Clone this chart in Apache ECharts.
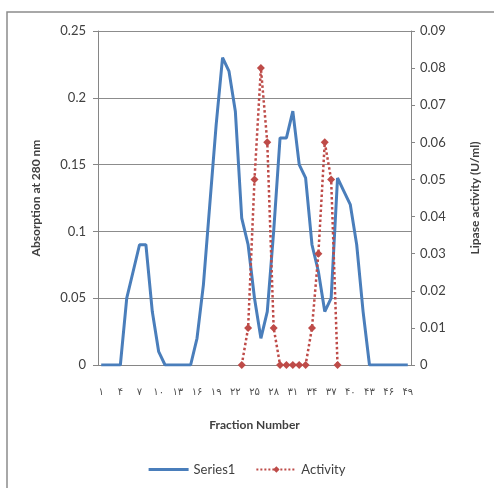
<!DOCTYPE html>
<html>
<head>
<meta charset="utf-8">
<script src="https://cdn.jsdelivr.net/npm/echarts@6/dist/echarts.min.js"></script>
<style>
  html, body { margin: 0; padding: 0; background: #fff; }
  #chart { width: 494px; height: 488px; }
</style>
</head>
<body>
<div id="chart"></div>
<script>
// fraction numbers (x axis)
var fractions = [1, 2, 3, 4, 5, 6, 7, 8, 9, 10, 11, 12, 13, 14, 15, 16, 17, 18, 19, 20,
    21, 22, 23, 24, 25, 26, 27, 28, 29, 30, 31, 32, 33, 34, 35, 36, 37, 38, 39, 40,
    41, 42, 43, 44, 45, 46, 47, 48, 49];

// absorption at 280 nm
var series1 = [0, 0, 0, 0, 0.05, 0.07, 0.09, 0.09, 0.04, 0.01, 0, 0, 0, 0, 0, 0.02, 0.06, 0.12, 0.18, 0.23,
    0.22, 0.19, 0.11, 0.09, 0.05, 0.02, 0.04, 0.10, 0.17, 0.17, 0.19, 0.15, 0.14, 0.09, 0.07, 0.04, 0.05, 0.14, 0.13, 0.12,
    0.09, 0.04, 0, 0, 0, 0, 0, 0, 0];

// lipase activity (U/ml), only measured for fractions 23..38
var activity = [null, null, null, null, null, null, null, null, null, null, null, null, null, null, null, null, null, null, null, null,
    null, null, 0, 0.01, 0.05, 0.08, 0.06, 0.01, 0, 0, 0, 0, 0, 0.01, 0.03, 0.06, 0.05, 0, null, null,
    null, null, null, null, null, null, null, null, null];

var faDigits = ['۰', '۱', '۲', '۳', '۴', '۵', '۶', '۷', '۸', '۹'];
function toFa(n) {
    return String(n).split('').map(function (d) { return faDigits[+d]; }).join('');
}

var txt = '#404040';
var chart = echarts.init(document.getElementById('chart'));
chart.setOption({
    backgroundColor: '#fff',
    animation: false,
    textStyle: { fontFamily: 'Lato' },
    graphic: [{
        type: 'rect',
        shape: { x: 7, y: 12, width: 500, height: 490 },
        style: { fill: 'none', stroke: '#8c8c8c', lineWidth: 1.5 },
        silent: true
    }],
    grid: { left: 98, right: 83, top: 31, bottom: 123 },
    legend: {
        bottom: 7,
        left: 'center',
        itemWidth: 40,
        itemHeight: 8,
        itemGap: 20,
        textStyle: { color: txt, fontSize: 13, fontFamily: 'Lato' },
        data: [{ name: 'Series1', icon: 'path://M0,0H40V3H0Z' }, 'Activity']
    },
    xAxis: {
        type: 'category',
        data: fractions,
        boundaryGap: true,
        name: 'Fraction Number',
        nameLocation: 'middle',
        nameGap: 54,
        nameTextStyle: { color: txt, fontSize: 12, fontWeight: 'bold', fontFamily: 'Lato' },
        axisLine: { lineStyle: { color: '#868686' } },
        axisTick: { show: false },
        axisLabel: {
            interval: 2,
            margin: 22,
            color: '#505050',
            fontSize: 10,
            fontFamily: 'DejaVu Sans',
            formatter: function (v) { return toFa(v); }
        }
    },
    yAxis: [{
        type: 'value',
        min: 0,
        max: 0.25,
        interval: 0.05,
        name: 'Absorption at 280 nm',
        nameLocation: 'middle',
        nameRotate: 90,
        nameGap: 56,
        nameTextStyle: { color: txt, fontSize: 12, fontWeight: 'bold', fontFamily: 'Lato' },
        axisLine: { show: true, lineStyle: { color: '#868686' } },
        axisTick: { show: true, length: 5, lineStyle: { color: '#868686' } },
        axisLabel: { color: txt, fontSize: 13, margin: 12 },
        splitLine: { lineStyle: { color: '#8c8c8c', width: 1 } }
    }, {
        type: 'value',
        min: 0,
        max: 0.09,
        interval: 0.01,
        position: 'right',
        name: 'Lipase activity (U/ml)',
        nameLocation: 'middle',
        nameRotate: 90,
        nameGap: 58,
        nameTextStyle: { color: txt, fontSize: 12, fontWeight: 'bold', fontFamily: 'Lato' },
        axisLine: { show: true, lineStyle: { color: '#868686' } },
        axisTick: { show: true, length: 4, lineStyle: { color: '#868686' } },
        axisLabel: { color: txt, fontSize: 13, margin: 9 },
        splitLine: { show: false }
    }],
    series: [{
        name: 'Series1',
        type: 'line',
        data: series1,
        yAxisIndex: 0,
        symbol: 'none',
        itemStyle: { color: '#4a7ebb' },
        lineStyle: { color: '#4a7ebb', width: 3 }
    }, {
        name: 'Activity',
        type: 'line',
        data: activity,
        yAxisIndex: 1,
        symbol: 'diamond',
        symbolSize: 8,
        showAllSymbol: true,
        itemStyle: { color: '#be4b48' },
        lineStyle: { color: '#be4b48', width: 2.5, type: 'dotted' }
    }]
});
</script>
</body>
</html>
